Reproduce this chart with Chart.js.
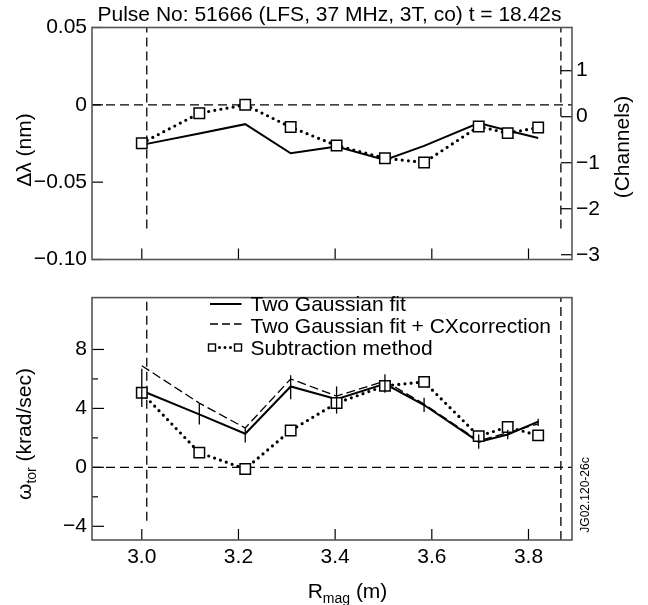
<!DOCTYPE html>
<html>
<head>
<meta charset="utf-8">
<script src="https://cdn.jsdelivr.net/npm/chart.js@4.4.1/dist/chart.umd.min.js"></script>
<style>
html, body { margin: 0; padding: 0; background: #fff; }
#wrap { position: relative; width: 648px; height: 605px; }
#top { position: absolute; left: 0; top: 0; }
#bottom { position: absolute; left: 0; top: 280px; }
</style>
</head>
<body>
<div id="wrap">
<canvas id="top" width="648" height="280"></canvas>
<canvas id="bottom" width="648" height="325"></canvas>
</div>
<script>
// radial positions of the channels (m)
var rmag = [3.0, 3.119, 3.214, 3.308, 3.403, 3.503, 3.584, 3.697, 3.757, 3.82];

// top panel: wavelength shift (nm)
var dlambdaFit = [-0.0259, -0.0185, -0.0125, -0.0313, -0.0270, -0.0356, -0.0265, -0.0118, -0.0166, -0.0215];
var dlambdaSub = [-0.0248, -0.0054, 0.0, -0.0144, -0.0263, -0.0345, -0.0373, -0.0140, -0.0183, -0.0147];

// bottom panel: toroidal rotation (krad/sec)
var omegaFit   = [5.2, 3.6, 2.28, 5.49, 4.63, 5.67, 4.23, 1.73, 2.23, 3.1];
var omegaFitCX = [6.9, 4.36, 2.67, 6.0, 4.84, 5.85, 4.3, 1.8, 2.35, 2.95];
var omegaSub   = [5.06, 1.0, -0.11, 2.5, 4.36, 5.53, 5.80, 2.12, 2.74, 2.17];
var omegaErrLow  = [4.1, 2.9, 1.69, 4.63, 3.65, 5.06, 3.75, 1.26, 1.91, 2.8];
var omegaErrHigh = [6.7, 4.3, 2.67, 6.25, 5.49, 6.32, 4.73, 2.23, 2.56, 3.3];

// limits of the viewing range (m)
var limitR = [3.0103, 3.867];
var topLimitSpan = [-0.08, 0.05];
var bottomLimitSpanLeft = [-3.63, 11.52];
var bottomLimitSpanRight = [-4.93, 11.52];

// ticks
var xTicks = [3.0, 3.2, 3.4, 3.6, 3.8];
var xTickLabels = ['3.0', '3.2', '3.4', '3.6', '3.8'];
var dlTicks = [0.05, 0, -0.05, -0.10];
var dlTickLabels = ['0.05', '0', '\u22120.05', '\u22120.10'];
var chanTicks = [1, 0, -1, -2, -3];
var chanTickLabels = ['1', '0', '\u22121', '\u22122', '\u22123'];
var omegaTicks = [8, 4, 0, -4];
var omegaTickLabels = ['8', '4', '0', '\u22124'];
var omegaMinorTicks = [6, 2, -2];

var FONT = '"Liberation Sans", Arial, Helvetica, sans-serif';
Chart.defaults.font.family = FONT;
Chart.defaults.font.size = 21;
Chart.defaults.color = '#000';

var xMin = 2.897, xMax = 3.89;

function pts(xs, ys) {
	return xs.map(function(x, i){ return {x: x, y: ys[i]}; });
}
function vline(x, span) {
	return [{x: x, y: span[0]}, {x: x, y: span[1]}];
}
function setTicks(values) {
	return function(scale){ scale.ticks = values.map(function(v){ return {value: v}; }); };
}
function labelsFrom(list) {
	return function(value, index){ return list[index]; };
}

function drawRich(ctx, parts, cx, cy, rot) {
	ctx.save();
	ctx.translate(cx, cy);
	ctx.rotate(rot);
	var total = 0;
	parts.forEach(function(p){ ctx.font = p[2]; p.w = ctx.measureText(p[0]).width; total += p.w; });
	var x = -total / 2;
	ctx.textBaseline = 'alphabetic';
	ctx.textAlign = 'left';
	ctx.fillStyle = '#000';
	parts.forEach(function(p){ ctx.font = p[2]; ctx.fillText(p[0], x, 7.5 + p[1]); x += p.w; });
	ctx.restore();
}

// box, inward ticks and extra drawing
function framePlugin(tickSpec, extra) {
	return {
		id: 'frame',
		afterDatasetsDraw: function(chart) {
			var ctx = chart.ctx, a = chart.chartArea;
			ctx.save();
			if (extra && extra.under) extra.under(chart, ctx);
			ctx.strokeStyle = '#000';
			ctx.lineWidth = 1.2;
			tickSpec.forEach(function(t){
				var s = chart.scales[t.axis];
				t.values.forEach(function(v){
					var p = s.getPixelForValue(v);
					ctx.beginPath();
					if (t.axis === 'x') { ctx.moveTo(p, a.bottom); ctx.lineTo(p, a.bottom - t.len); }
					else if (s.position === 'left') { ctx.moveTo(a.left, p); ctx.lineTo(a.left + t.len, p); }
					else { ctx.moveTo(a.right, p); ctx.lineTo(a.right - t.len, p); }
					ctx.stroke();
				});
			});
			ctx.strokeStyle = '#555';
			ctx.lineWidth = 1.6;
			ctx.strokeRect(a.left, a.top, a.right - a.left, a.bottom - a.top);
			ctx.restore();
		},
		afterDraw: function(chart) {
			if (extra && extra.over) {
				var ctx = chart.ctx;
				ctx.save();
				extra.over(chart, ctx);
				ctx.restore();
			}
		}
	};
}

var dashStyle = {borderColor: '#000', borderWidth: 1.3, borderDash: [9, 5], pointRadius: 0, showLine: true, order: 5};
function refLine(data) {
	return Object.assign({data: data}, dashStyle);
}
var subStyle = {
	showLine: true, borderColor: '#000', borderWidth: 3.2, borderDash: [0, 6.2], borderCapStyle: 'round',
	pointStyle: 'rect', pointRadius: 7.4, pointBackgroundColor: '#fff', pointBorderColor: '#000', pointBorderWidth: 1.5,
	order: 0
};

// ---------- top panel ----------
new Chart(document.getElementById('top').getContext('2d'), {
	type: 'scatter',
	data: {
		datasets: [
			Object.assign({data: pts(rmag, dlambdaSub)}, subStyle),
			{data: pts(rmag, dlambdaFit), showLine: true, borderColor: '#000', borderWidth: 2, pointRadius: 0, order: 1},
			refLine([{x: xMin, y: 0}, {x: xMax, y: 0}]),
			refLine(vline(limitR[0], topLimitSpan)),
			refLine(vline(limitR[1], topLimitSpan))
		]
	},
	options: {
		responsive: false,
		animation: false,
		layout: {padding: {top: 27.5, left: 0, right: 0, bottom: 0}},
		plugins: {legend: {display: false}, tooltip: {enabled: false}},
		scales: {
			x: {
				type: 'linear', min: xMin, max: xMax,
				afterBuildTicks: setTicks(xTicks),
				ticks: {display: false},
				grid: {display: false, drawTicks: false}, border: {display: false},
				afterFit: function(s){ s.height = 20.5; }
			},
			y: {
				position: 'left', min: -0.10, max: 0.05,
				afterBuildTicks: setTicks(dlTicks),
				ticks: {callback: labelsFrom(dlTickLabels), padding: 5, autoSkip: false},
				grid: {display: false, drawTicks: false}, border: {display: false},
				afterFit: function(s){ s.width = 92; }
			},
			y2: {
				position: 'right', min: -3.104, max: 1.939,
				afterBuildTicks: setTicks(chanTicks),
				ticks: {callback: labelsFrom(chanTickLabels), padding: 4, autoSkip: false},
				grid: {display: false, drawTicks: false}, border: {display: false},
				afterFit: function(s){ s.width = 76; }
			}
		}
	},
	plugins: [framePlugin(
		[{axis: 'x', values: xTicks, len: 11}, {axis: 'y', values: dlTicks, len: 11}, {axis: 'y2', values: chanTicks, len: 11}],
		{over: function(chart, ctx){
			var f = '21px ' + FONT;
			drawRich(ctx, [['Pulse No: 51666 (LFS, 37 MHz, 3T, co) t = 18.42s', 0, f]], 329.5, 13, 0);
			drawRich(ctx, [['\u0394\u03bb (nm)', 0, f]], 23.5, 150, -Math.PI / 2);
			drawRich(ctx, [['(Channels)', 0, f]], 621.5, 147, -Math.PI / 2);
		}}
	)]
});

// ---------- bottom panel ----------
new Chart(document.getElementById('bottom').getContext('2d'), {
	type: 'scatter',
	data: {
		datasets: [
			Object.assign({data: pts(rmag, omegaSub)}, subStyle),
			{data: pts(rmag, omegaFit), showLine: true, borderColor: '#000', borderWidth: 2, pointRadius: 0, order: 1},
			{data: pts(rmag, omegaFitCX), showLine: true, borderColor: '#000', borderWidth: 1.3, borderDash: [9, 4], pointRadius: 0, order: 2},
			refLine([{x: xMin, y: 0}, {x: xMax, y: 0}]),
			refLine(vline(limitR[0], bottomLimitSpanLeft)),
			refLine(vline(limitR[1], bottomLimitSpanRight))
		]
	},
	options: {
		responsive: false,
		animation: false,
		layout: {padding: {top: 7.5, left: 0, right: 76, bottom: 0}},
		plugins: {legend: {display: false}, tooltip: {enabled: false}},
		scales: {
			x: {
				type: 'linear', min: xMin, max: xMax,
				afterBuildTicks: setTicks(xTicks),
				ticks: {callback: labelsFrom(xTickLabels), padding: 5, autoSkip: false, maxRotation: 0},
				grid: {display: false, drawTicks: false}, border: {display: false},
				afterFit: function(s){ s.height = 65; }
			},
			y: {
				position: 'left', min: -4.93, max: 11.52,
				afterBuildTicks: setTicks(omegaTicks),
				ticks: {callback: labelsFrom(omegaTickLabels), padding: 5, autoSkip: false},
				grid: {display: false, drawTicks: false}, border: {display: false},
				afterFit: function(s){ s.width = 92; }
			}
		}
	},
	plugins: [framePlugin(
		[{axis: 'x', values: xTicks, len: 11}, {axis: 'y', values: omegaTicks, len: 12}, {axis: 'y', values: omegaMinorTicks, len: 6}],
		{
			under: function(chart, ctx){
				// error bars of the two Gaussian fit
				var xs = chart.scales.x, ys = chart.scales.y;
				ctx.strokeStyle = '#000';
				ctx.lineWidth = 1.3;
				rmag.forEach(function(r, i){
					var px = xs.getPixelForValue(r);
					ctx.beginPath();
					ctx.moveTo(px, ys.getPixelForValue(omegaErrLow[i]));
					ctx.lineTo(px, ys.getPixelForValue(omegaErrHigh[i]));
					ctx.stroke();
				});
			},
			over: function(chart, ctx){
				var f = '21px ' + FONT, fs = '14px ' + FONT;
				drawRich(ctx, [['\u03c9', 0, f], ['tor', 5, fs], [' (krad/sec)', 0, f]], 23.5, 154, -Math.PI / 2);
				drawRich(ctx, [['R', 0, f], ['mag', 5, fs], [' (m)', 0, f]], 347.5, 310, 0);
				drawRich(ctx, [['JG02.120-26c', 0, '12px ' + FONT]], 581, 215, -Math.PI / 2);

				// legend
				var lx0 = 210, lx1 = 241.5, tx = 250.5;
				var rows = [23, 45, 67.5];
				ctx.strokeStyle = '#000';
				ctx.lineWidth = 2;
				ctx.beginPath(); ctx.moveTo(lx0, rows[0] + 1); ctx.lineTo(lx1, rows[0] + 1); ctx.stroke();
				ctx.lineWidth = 1.3;
				ctx.setLineDash([8, 4]);
				ctx.beginPath(); ctx.moveTo(lx0, rows[1] - 1); ctx.lineTo(lx1, rows[1] - 1); ctx.stroke();
				ctx.setLineDash([0, 5.5]);
				ctx.lineCap = 'round';
				ctx.lineWidth = 3;
				ctx.beginPath(); ctx.moveTo(lx0 + 4, rows[2]); ctx.lineTo(lx1 - 4, rows[2]); ctx.stroke();
				ctx.setLineDash([]);
				ctx.lineCap = 'butt';
				ctx.lineWidth = 1.4;
				ctx.fillStyle = '#fff';
				[lx0 + 2, lx1 - 3.5].forEach(function(cx){
					ctx.fillRect(cx - 3.5, rows[2] - 3.5, 7, 7);
					ctx.strokeRect(cx - 3.5, rows[2] - 3.5, 7, 7);
				});
				ctx.fillStyle = '#000';
				ctx.font = f;
				ctx.textBaseline = 'alphabetic';
				ctx.textAlign = 'left';
				ctx.fillText('Two Gaussian fit', tx, rows[0] + 7.5);
				ctx.fillText('Two Gaussian fit + CXcorrection', tx, rows[1] + 7.5);
				ctx.fillText('Subtraction method', tx, rows[2] + 7.5);
			}
		}
	)]
});
</script>
</body>
</html>
